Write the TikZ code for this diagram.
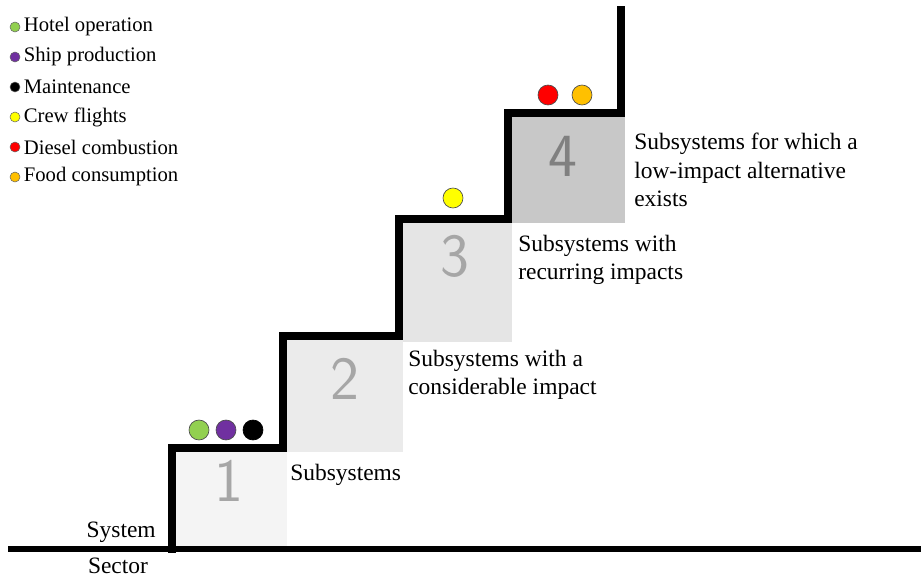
\documentclass[tikz,border=0pt]{standalone}
\usepackage{fontspec}
\setmainfont{Liberation Serif}
\newfontfamily\labelfont{Liberation Serif}
\usetikzlibrary{positioning}
\definecolor{hotelgreen}{HTML}{92D050}
\definecolor{shippurple}{HTML}{7030A0}
\definecolor{flightyellow}{HTML}{FFFF00}
\definecolor{dieselred}{HTML}{FF0000}
\definecolor{foodorange}{HTML}{FFC000}
\definecolor{boxone}{HTML}{F4F4F4}
\definecolor{boxtwo}{HTML}{EBEBEB}
\definecolor{boxthree}{HTML}{E5E5E5}
\definecolor{boxfour}{HTML}{C8C8C8}

\begin{document}
\begin{tikzpicture}[
    x=0.75pt, y=-0.75pt,
    font=\labelfont\fontsize{17.6}{21.5}\selectfont,
    % Base styles for lines, dots and texts
    stair/.style={line width=5.4pt, line join=miter, line cap=rect},
    groundline/.style={line width=4.5pt},
    stepdot/.style={circle, draw=black!70, line width=0.5pt, minimum size=15pt, inner sep=0pt},
    keydot/.style={circle, draw=black!60, line width=0.4pt, minimum size=7.5pt, inner sep=0pt},
    keytext/.style={anchor=west, inner sep=0pt, font=\labelfont\fontsize{15.5}{18}\selectfont},
    stepnum/.style={font=\sffamily\fontsize{46}{46}\selectfont, text=black!35},
    label/.style={anchor=west, align=left, inner sep=0pt}
]
\useasboundingbox (0,0) rectangle (921,579);

% --- Grey boxes ---
\fill[boxone] (175,452) rectangle (287,547);
\fill[boxtwo] (287,340) rectangle (403,452);
\fill[boxthree] (403,223) rectangle (512,342);
\fill[boxfour] (512,117) rectangle (625,223);

% --- Step numbers ---
\node [stepnum] (num1) at (229,481) {1};
\node [stepnum] (num2) at (345,379) {2};
\node [stepnum] (num3) at (455,256) {3};
\node [stepnum, text=black!50] (num4) at (563,156) {4};

% --- Staircase ---
\draw [groundline] (8,549) -- (921,549);
\draw [stair] (172,549) -- (172,448) -- (283,448) -- (283,336) -- (399,336)
    -- (399,219) -- (508,219) -- (508,113) -- (621,113) -- (621,10);

% --- Labels ---
\node [label] (lab1) at (290,475) {Subsystems};
\node [label] (lab2) at (408,375) {Subsystems with a\\considerable impact};
\node [label] (lab3) at (518,260) {Subsystems with\\recurring impacts};
\node [label] (lab4) at (634,170) {Subsystems for which a\\low-impact alternative\\exists};
\node [anchor=east, inner sep=0pt] (system) at (156,532) {System};
\node [inner sep=0pt] (sector) at (118,566) {Sector};

% --- Dots on the steps ---
\node [stepdot, fill=hotelgreen] (hotel) at (199,430) {};
\node [stepdot, fill=shippurple] (ship) at (226,430) {};
\node [stepdot, fill=black, draw=black] (maint) at (253,430) {};
\node [stepdot, fill=flightyellow] (crew) at (453,198) {};
\node [stepdot, fill=dieselred] (diesel) at (548,95) {};
\node [stepdot, fill=foodorange] (food) at (582,95) {};

% --- Legend ---
\foreach \col/\txt [count=\i] in {hotelgreen/Hotel operation, shippurple/Ship production,
    black/Maintenance, flightyellow/Crew flights, dieselred/Diesel combustion,
    foodorange/Food consumption}
{
    \node [keydot, fill=\col] (key\i) at (15,-3+30*\i) {};
    \node [keytext, right=2.5pt of key\i] (keytxt\i) {\txt};
}

\end{tikzpicture}
\end{document}
